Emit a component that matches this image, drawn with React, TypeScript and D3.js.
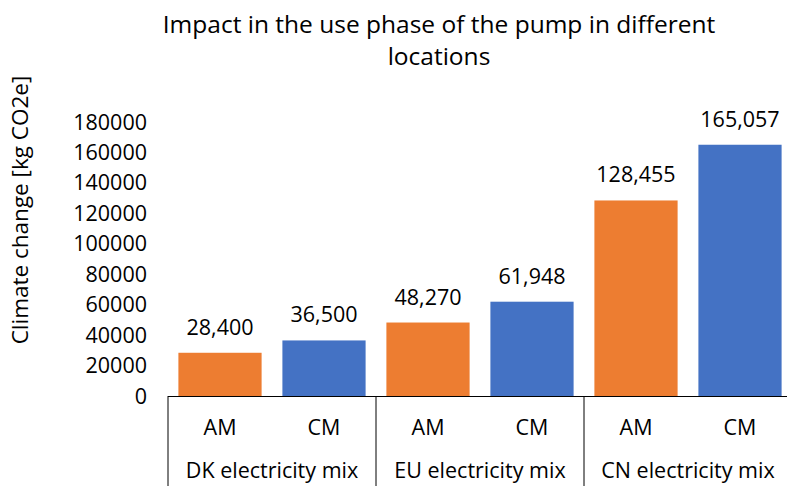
import React from "react";
import * as d3 from "d3";

const groups = ["DK electricity mix", "EU electricity mix", "CN electricity mix"];
const subCategories = ["AM", "CM"];
const values = [28400, 36500, 48270, 61948, 128455, 165057];
const valueLabels = ["28,400", "36,500", "48,270", "61,948", "128,455", "165,057"];
const yTicks = [0, 20000, 40000, 60000, 80000, 100000, 120000, 140000, 160000, 180000];
const colors = ["#ED7D31", "#4472C4"];
const titleLines = ["Impact in the use phase of the pump in different", "locations"];
const yTitle = "Climate change [kg CO2e]";

const W = 787;
const H = 486;
const FONT = "'Open Sans', sans-serif";

export default function App() {
  const left = 168;
  const right = 792;
  const bottom = 396;
  const top = 122;

  const items = groups.flatMap((g, gi) =>
    subCategories.map((s, si) => ({ g, gi, s, si, key: `${gi}-${si}`, v: values[gi * 2 + si], label: valueLabels[gi * 2 + si] }))
  );

  const x = d3.scaleBand<string>().domain(items.map((d) => d.key)).range([left, right]).paddingInner(0.2).paddingOuter(0.1);
  const xCat = d3.scaleBand<string>().domain(items.map((d) => d.key)).range([left, right]);
  const xGroup = d3.scaleBand<string>().domain(groups).range([left, right]);
  const y = d3.scaleLinear().domain([0, 180000]).range([bottom, top]);

  const fs = 21.5;

  return (
    <svg width={W} height={H} style={{ position: "absolute", left: 0, top: 0, background: "#fff" }} fontFamily={FONT}>
      <rect x={0} y={0} width={W} height={H} fill="#fff" />
      {titleLines.map((t, i) => (
        <text key={i} x={439} y={33 + i * 32} textAnchor="middle" fontSize={24.5} fill="#000">
          {t}
        </text>
      ))}
      <text transform={`translate(28,${210}) rotate(-90)`} textAnchor="middle" fontSize={22.5} fill="#000">
        {yTitle}
      </text>
      {yTicks.map((t) => (
        <text key={t} x={147} y={y(t)} dy="0.35em" textAnchor="end" fontSize={fs} fill="#000">
          {t}
        </text>
      ))}
      {items.map((d) => (
        <g key={d.key}>
          <rect x={x(d.key)} y={y(d.v)} width={x.bandwidth()} height={bottom - y(d.v)} fill={colors[d.si]} />
          <text x={(x(d.key) as number) + x.bandwidth() / 2} y={y(d.v) - 18} textAnchor="middle" fontSize={fs} fill="#000">
            {d.label}
          </text>
          <text x={(xCat(d.key) as number) + xCat.bandwidth() / 2} y={435} textAnchor="middle" fontSize={fs} fill="#000">
            {d.s}
          </text>
        </g>
      ))}
      <line x1={left} x2={right} y1={bottom + 0.5} y2={bottom + 0.5} stroke="#000" strokeWidth={1} />
      {groups.map((g) => (
        <g key={g}>
          <line x1={xGroup(g)} x2={xGroup(g)} y1={bottom} y2={H} stroke="#000" strokeWidth={1} />
          <text x={(xGroup(g) as number) + xGroup.bandwidth() / 2} y={478} textAnchor="middle" fontSize={fs} fill="#000">
            {g}
          </text>
        </g>
      ))}
      <line x1={right} x2={right} y1={bottom} y2={H} stroke="#000" strokeWidth={1} />
    </svg>
  );
}
